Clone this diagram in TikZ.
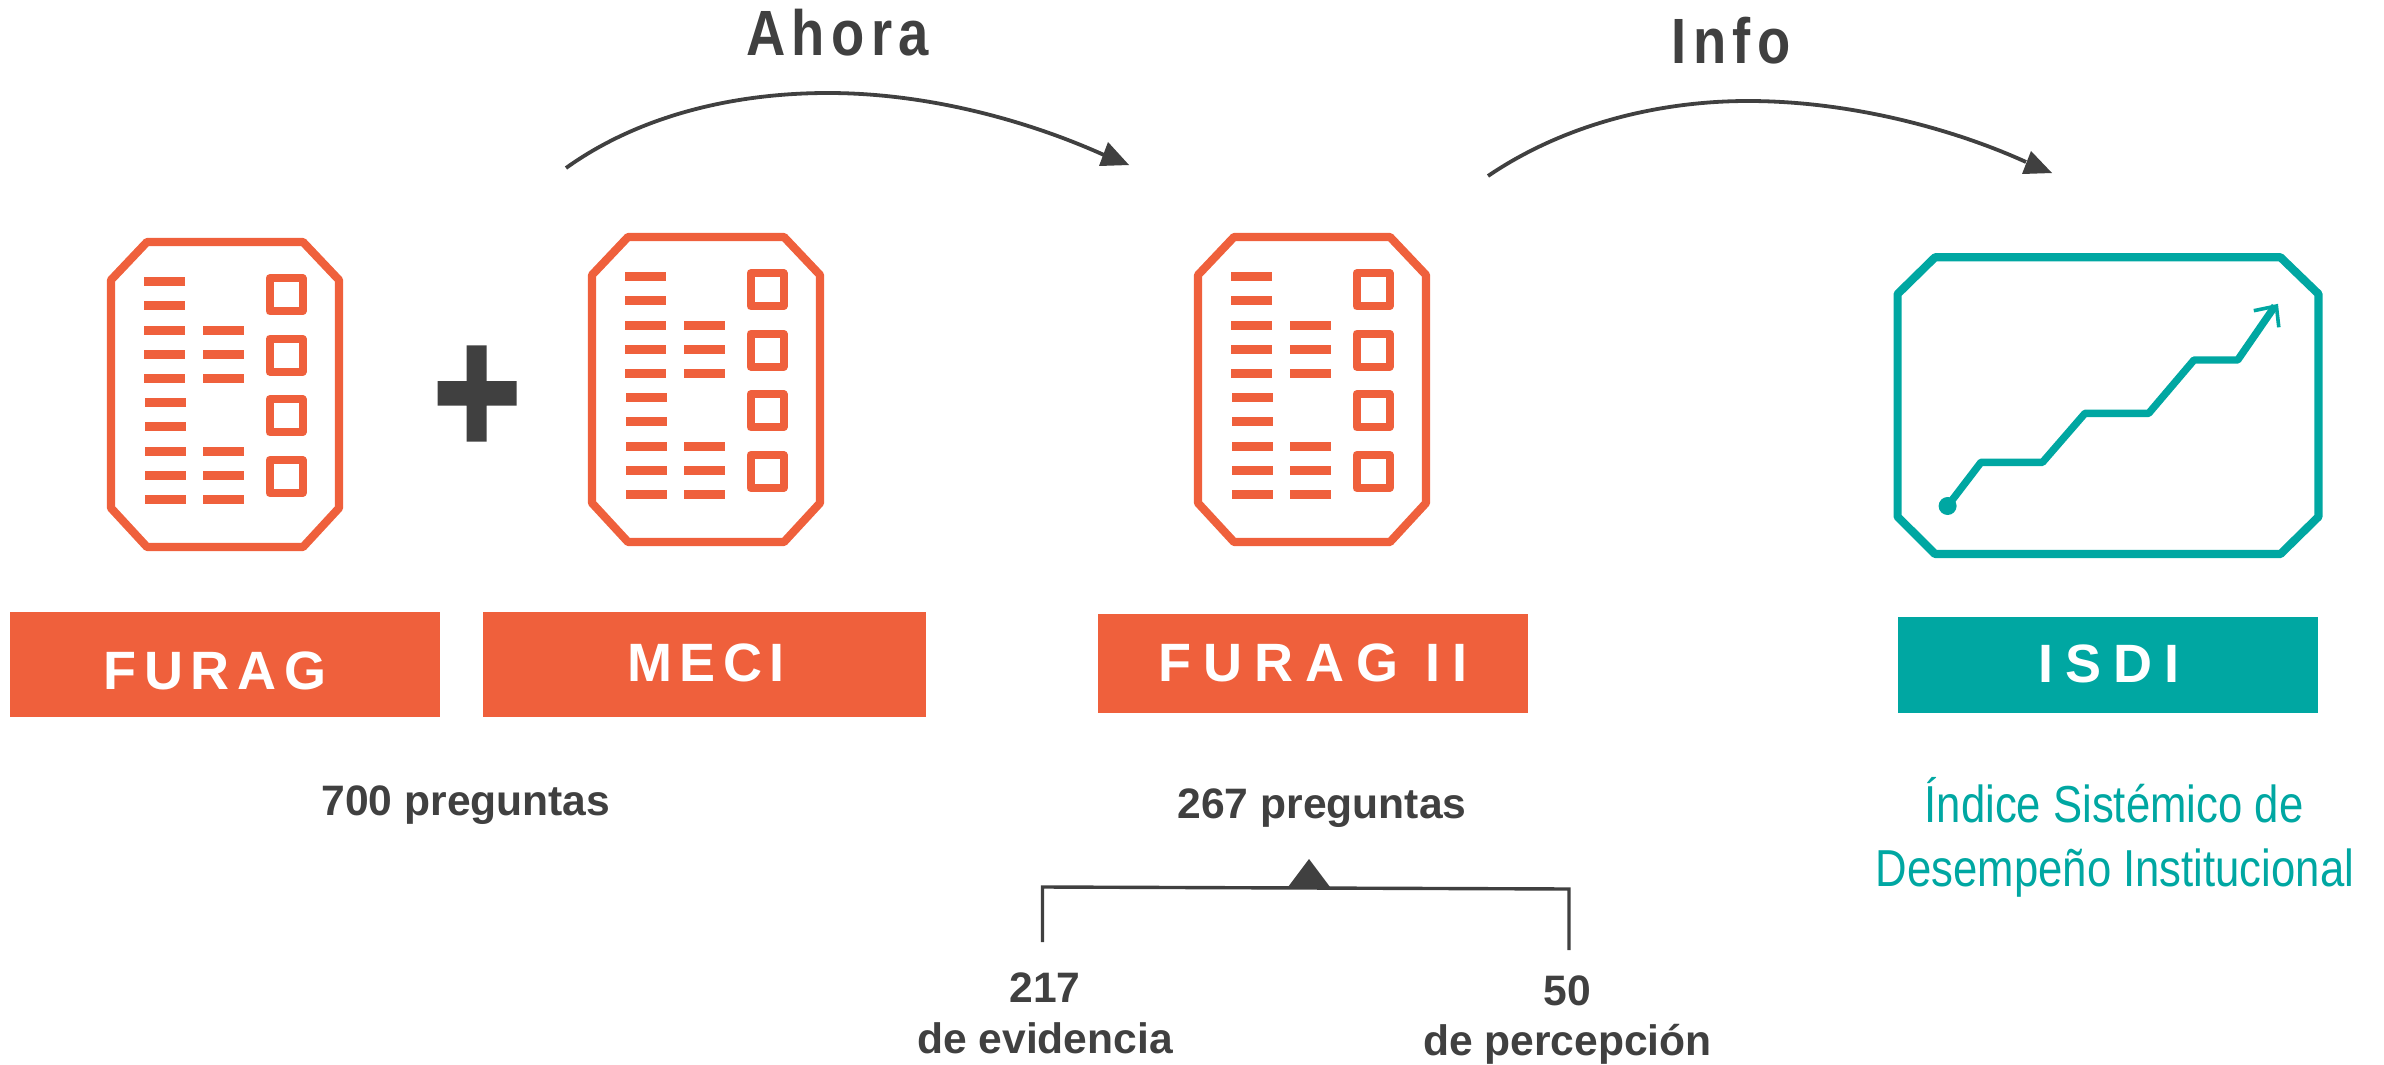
\documentclass[tikz,border=0pt]{standalone}
\usepackage{fontspec}
\setmainfont{Liberation Sans}
\newfontfamily\bannerfont[LetterSpace=14]{Liberation Sans Bold}
\newfontfamily\bannerwidefont[LetterSpace=22]{Liberation Sans Bold}
\newfontfamily\headfont[FakeStretch=0.85,LetterSpace=10]{Liberation Sans Bold}
\newfontfamily\namefont[FakeStretch=0.84]{Liberation Sans}
\definecolor{orangeC}{HTML}{EF603C}
\definecolor{tealC}{HTML}{00A7A2}
\definecolor{darkC}{HTML}{404040}
\tikzset{
  x=0.5pt,y=-0.5pt,
  frameline/.style={line width=4.1pt,line join=round},
  barfill/.style={fill=orangeC,draw=none},
  bannerbox/.style={rectangle,inner sep=0pt,minimum width=#1,draw=none},
  bannertext/.style={anchor=base,text=white,font=\fontsize{27}{27}\selectfont\bannerfont},
  bannerwide/.style={anchor=base,text=white,font=\fontsize{27}{27}\selectfont\bannerwidefont},
  headtext/.style={anchor=base,text=darkC,font=\fontsize{32}{32}\selectfont\headfont},
  boldtext/.style={anchor=base,text=darkC,font=\fontsize{21.3}{21.3}\selectfont\bfseries},
  nametext/.style={anchor=base,text=tealC,font=\fontsize{26}{26}\selectfont\namefont},
  arcline/.style={draw=darkC,line width=1.9pt},
  headfill/.style={fill=darkC,draw=none},
}
\newcommand{\formicon}[2]{%
\begin{scope}[shift={(#1,#2)}]
  \draw[orangeC,frameline] (147,242) -- (303,242) -- (339,280) -- (339,508) -- (303,547) -- (147,547) -- (111,508) -- (111,280) -- cycle;
  \foreach \r in {281.3,305.3,330.3,354.3,378.3}{\fill[barfill] (144,\r-4.7) rectangle (185,\r+4.7);}
  \foreach \r in {402.3,426.3,451.3,475.3,499.3}{\fill[barfill] (145,\r-4.7) rectangle (186,\r+4.7);}
  \foreach \r in {330.3,354.3,378.3,451.3,475.3,499.3}{\fill[barfill] (203,\r-4.7) rectangle (244,\r+4.7);}
  \foreach \r in {274.3,334.7,395.3,456}{
    \draw[orangeC,line width=4pt,line join=round] (269.5,\r+4) rectangle (302.5,\r+37);
  }
\end{scope}}
\begin{document}
\begin{tikzpicture}
\useasboundingbox (0,0) rectangle (2384,1065);
% icons
\formicon{0}{0}
\formicon{481}{-5}
\formicon{1087}{-5}
% plus
\fill[darkC] (466.7,345.3) -- (486.7,345.3) -- (486.7,381) -- (516.5,381) -- (516.5,405.7) -- (486.7,405.7) -- (486.7,441.7) -- (466.7,441.7) -- (466.7,405.7) -- (437.5,405.7) -- (437.5,381) -- (466.7,381) -- cycle;
% ISDI icon
\draw[tealC,frameline] (1935,257.3) -- (2280.5,257.3) -- (2318.5,294) -- (2318.5,516.7) -- (2280.5,554) -- (1935,554) -- (1897.6,516.7) -- (1897.6,294) -- cycle;
\fill[tealC] (1947.6,506) circle (4.5pt);
\draw[tealC,line width=3.7pt,line join=round] (1947.6,506) -- (1981,462.3) -- (2042.5,462.3) -- (2085,413.3) -- (2148.7,413.3) -- (2194,360) -- (2237.7,360) -- (2275,306);
\draw[tealC,line width=1.8pt] (2253.8,310.7) -- (2276.4,306) -- (2278.8,327.3);
% banners
\node[bannerbox=215pt,minimum height=52.5pt,fill=orangeC] (bFurag) at (225.3,664.5) {};
\node[bannerbox=221.5pt,minimum height=52.5pt,fill=orangeC] (bMeci) at (704,664.5) {};
\node[bannerbox=215pt,minimum height=49.5pt,fill=orangeC] (bFuragII) at (1313,663) {};
\node[bannerbox=210pt,minimum height=48pt,fill=tealC] (bIsdi) at (2107.5,664.5) {};
\node[bannertext] (tFurag) at (215,689) {FURAG};
\node[bannertext] (tMeci) at (706,681) {MECI};
\node[bannerwide] (tFuragII) at (1313,681.7) {FURAG II};
\node[bannerwide] (tIsdi) at (2109,682.7) {ISDI};
% titles
\node[headtext] (tAhora) at (837.5,56) {Ahora};
\node[headtext] (tInfo) at (1731,64) {Info};
% arcs
\coordinate (a1) at (566,168);
\coordinate (a2) at (1104,155);
\coordinate (b1) at (1488,176);
\coordinate (b2) at (2026,162);
\draw[arcline] (a1) .. controls (640,115) and (735,93) .. (828,93) .. controls (930,93) and (1031,122) .. (a2);
\fill[headfill] (1108,142) -- (1099,166) -- (1129,165) -- cycle;
\draw[arcline] (b1) .. controls (1563,125) and (1657,101) .. (1748,101) .. controls (1852,101) and (1956,130) .. (b2);
\fill[headfill] (2031,151) -- (2022,174) -- (2052,173) -- cycle;
% labels
\node[boldtext] (t700) at (466,815) {700 preguntas};
\node[boldtext] (t267) at (1322,818.5) {267 preguntas};
\node[nametext] (tInd) at (2114,822.7) {Índice Sistémico de};
\node[nametext] (tDes) at (2115,886.7) {Desempeño Institucional};
% bracket
\coordinate (brL) at (1042.5,942);
\coordinate (brR) at (1569,950);
\draw[draw=darkC,line width=1.7pt] (brL) -- (1042.5,887) -- (1569,889) -- (brR);
\fill[headfill] (1309,859) -- (1288,887) -- (1330,887) -- cycle;
\node[boldtext] (t217) at (1045,1002) {217};
\node[boldtext] (tEvi) at (1045,1053) {de evidencia};
\node[boldtext] (t50) at (1567.5,1005) {50};
\node[boldtext] (tPer) at (1567.5,1055.6) {de percepción};
\end{tikzpicture}
\end{document}
